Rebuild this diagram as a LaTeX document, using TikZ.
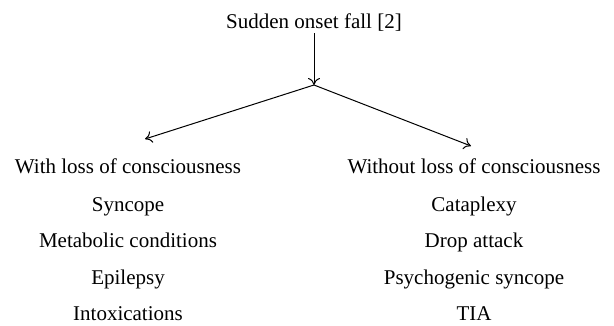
\documentclass[tikz,border=0pt]{standalone}
\usepackage{fontspec}
\setmainfont{Liberation Serif}
\usetikzlibrary{arrows.meta}
\begin{document}
\begin{tikzpicture}[x=1pt,y=-1pt,
  lbl/.style={anchor=base,inner sep=0pt,font=\fontsize{21}{24}\selectfont},
  conn/.style={line width=1pt,-{To[length=7pt,width=12pt]}}]
\useasboundingbox (0,0) rectangle (614,325);
\node[lbl] (top) at (314,28) {Sudden onset fall [2]};
\coordinate (j) at (314,85);
\coordinate (lt) at (145,139);
\coordinate (rt) at (471,146);
\node[lbl] (lh) at (128,173) {With loss of consciousness};
\node[lbl] (l1) at (128,211) {Syncope};
\node[lbl] (l2) at (128,247) {Metabolic conditions};
\node[lbl] (l3) at (128,284) {Epilepsy};
\node[lbl] (l4) at (128,320) {Intoxications};
\node[lbl] (rh) at (474,173) {Without loss of consciousness};
\node[lbl] (r1) at (474,211) {Cataplexy};
\node[lbl] (r2) at (474,247) {Drop attack};
\node[lbl] (r3) at (474,284) {Psychogenic syncope};
\node[lbl] (r4) at (474,320) {TIA};
\draw[conn,shorten <=2pt] (top.south) -- (j);
\draw[conn] (j) -- (lt);
\draw[conn] (j) -- (rt);
\end{tikzpicture}
\end{document}
